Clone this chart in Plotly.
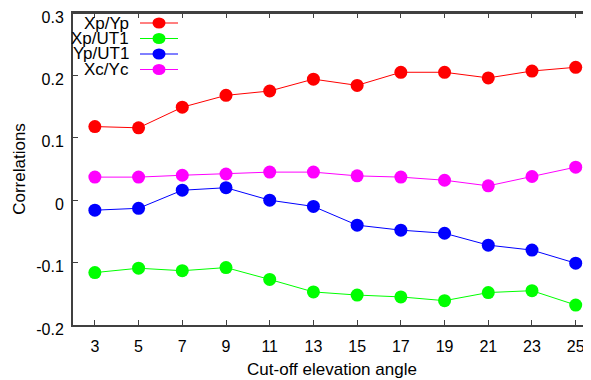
import plotly.graph_objects as go

angles = [3, 5, 7, 9, 11, 13, 15, 17, 19, 21, 23, 25]
series_names = ["Xp/Yp", "Xp/UT1", "Yp/UT1", "Xc/Yc"]
xp_yp = [0.118, 0.116, 0.149, 0.168, 0.175, 0.194, 0.184, 0.205, 0.205, 0.196, 0.207, 0.213]
xp_ut1 = [-0.116, -0.109, -0.113, -0.108, -0.127, -0.147, -0.152, -0.155, -0.161, -0.148, -0.145, -0.168]
yp_ut1 = [-0.016, -0.013, 0.016, 0.020, 0.000, -0.010, -0.040, -0.048, -0.053, -0.072, -0.080, -0.101]
xc_yc = [0.037, 0.037, 0.040, 0.042, 0.045, 0.045, 0.039, 0.037, 0.032, 0.023, 0.038, 0.053]
colors = ["#ff0000", "#00ff00", "#0000ff", "#ff00ff"]
y_ticks = [0.3, 0.2, 0.1, 0, -0.1, -0.2]
y_tick_labels = ["0.3", "0.2", "0.1", "0", "-0.1", "-0.2"]

# the page body has an 8px default margin, so the figure is offset by 8px
OFF = 8
W, H = 591 - OFF, 380 - OFF
ML, MR, MT, MB = 73 - OFF, 0, 13 - OFF, 55
FONT = "Liberation Sans, Arial, sans-serif"
AXC = "#404040"

fig = go.Figure()
for name, vals, col in zip(series_names, [xp_yp, xp_ut1, yp_ut1, xc_yc], colors):
    fig.add_trace(go.Scatter(
        x=angles, y=vals, name=name, mode="lines+markers",
        line=dict(color=col, width=1),
        marker=dict(color=col, size=13, line=dict(width=0)),
        showlegend=False, cliponaxis=False,
    ))
# invisible helper trace so the top (mirror) axis is drawn
fig.add_trace(go.Scatter(x=angles[:1], y=y_ticks[:1], xaxis="x2", mode="markers",
                         marker=dict(opacity=0), showlegend=False, hoverinfo="skip"))

# legend drawn gnuplot-style: text on the left, key sample on the right
pw = W - ML - MR
ph = H - MT - MB
rows_px = [23, 38.5, 54, 69.5]
shapes = []
annotations = []
for name, col, ry in zip(series_names, colors, rows_px):
    yp = (H - MB - (ry - OFF)) / ph
    annotations.append(dict(
        xref="paper", yref="paper", x=(131 - 73) / pw, y=yp,
        xanchor="right", yanchor="middle", showarrow=False,
        text=name, font=dict(family=FONT, size=17, color="#000000"),
    ))
    shapes.append(dict(
        type="line", xref="paper", yref="paper",
        x0=(140 - 73) / pw, x1=(178 - 73) / pw, y0=yp, y1=yp,
        line=dict(color=col, width=1),
    ))
    shapes.append(dict(
        type="circle", xref="paper", yref="paper",
        xsizemode="pixel", ysizemode="pixel",
        xanchor=(159 - 73) / pw, yanchor=yp,
        x0=-6.5, x1=6.5, y0=-5.5, y1=5.5,
        fillcolor=col, line=dict(width=0),
    ))
# top frame line
shapes.append(dict(type="line", xref="paper", yref="paper", x0=0, x1=1, y0=1, y1=1,
                   line=dict(color=AXC, width=2)))

fig.update_layout(
    template="none",
    width=W, height=H,
    margin=dict(l=ML, r=MR, t=MT, b=MB, pad=0),
    paper_bgcolor="white", plot_bgcolor="white",
    font=dict(family=FONT, size=16, color="#000000"),
    shapes=shapes, annotations=annotations,
    xaxis=dict(
        automargin=False,
        range=[2.0, 25.7], tickmode="array", tickvals=angles,
        ticktext=[str(a) for a in angles],
        ticks="inside", ticklen=5, tickwidth=1, tickcolor=AXC,
        showline=True, linecolor=AXC, linewidth=2, mirror=False,
        showgrid=False, zeroline=False,
        ticklabelstandoff=6, ticklabeloverflow="allow",
        title=dict(text="Cut-off elevation angle", font=dict(size=17), standoff=9),
    ),
    xaxis2=dict(
        automargin=False, overlaying="x", side="top", matches="x",
        range=[2.0, 25.7], tickmode="array", tickvals=angles,
        ticks="inside", ticklen=5, tickwidth=1, tickcolor=AXC,
        showticklabels=False, showline=True, linecolor=AXC, linewidth=2,
        showgrid=False, zeroline=False,
    ),
    yaxis=dict(
        automargin=False,
        range=[-0.2, 0.3], tickmode="array", tickvals=y_ticks, ticktext=y_tick_labels,
        ticks="inside", ticklen=5, tickwidth=1, tickcolor=AXC,
        showline=True, linecolor=AXC, linewidth=2, mirror=False,
        showgrid=False, zeroline=False,
        ticklabelstandoff=4, ticklabelshift=4, ticklabeloverflow="allow",
        title=dict(text="Correlations", font=dict(size=17), standoff=6),
    ),
)

fig.write_html("out.html")
